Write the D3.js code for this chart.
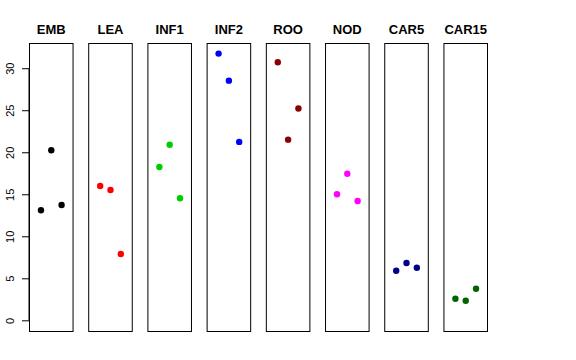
<!DOCTYPE html>
<html>
<head>
<meta charset="utf-8">
<script src="https://cdn.jsdelivr.net/npm/d3@7"></script>
<style>
  body { margin: 0; background: #fff; }
  svg { display: block; }
  .title { font-family: "Liberation Sans", Arial, sans-serif; font-weight: bold; font-size: 13px; }
  .tick text { font-family: "Liberation Sans", Arial, sans-serif; font-size: 11px; }
</style>
</head>
<body>
<div id="chart"></div>
<script>
// tissues, one panel each
var categories = ['EMB', 'LEA', 'INF1', 'INF2', 'ROO', 'NOD', 'CAR5', 'CAR15'];
var colors = ['#000000', '#ff0000', '#00cd00', '#0000ff', '#8b0000', '#ff00ff', '#00008b', '#006400'];
// three replicates per tissue
var rep1 = [13.1, 15.99, 18.25, 31.74, 30.71, 15.0, 5.9, 2.57];
var rep2 = [20.24, 15.51, 20.9, 28.52, 21.5, 17.44, 6.82, 2.33];
var rep3 = [13.73, 7.89, 14.52, 21.23, 25.2, 14.2, 6.26, 3.76];
var yTicks = [0, 5, 10, 15, 20, 25, 30];

var width = 576, height = 360;
var margin = {top: 43, bottom: 29, left: 29, right: 88};

var svg = d3.select('#chart').append('svg')
  .attr('width', width)
  .attr('height', height);

var panel = d3.scaleBand()
  .domain(categories)
  .range([margin.left, width - margin.right])
  .paddingInner(0.2475)
  .paddingOuter(0);

var y = d3.scaleLinear()
  .domain([-1.27, 33.0])
  .range([height - margin.bottom, margin.top]);

var x = d3.scaleLinear()
  .domain([-0.16, 4.16])
  .range([0, panel.bandwidth()]);

// y axis on the first panel only, spine from 0 to 30
var yAxis = svg.append('g')
  .attr('transform', 'translate(' + margin.left + ',0)')
  .call(d3.axisLeft(y).tickValues(yTicks).tickSize(7).tickSizeOuter(0));
yAxis.select('.domain').remove();
yAxis.append('line')
  .attr('x1', 0).attr('x2', 0)
  .attr('y1', y(0)).attr('y2', y(30))
  .attr('stroke', '#000');
yAxis.selectAll('.tick text')
  .attr('transform', 'rotate(-90)')
  .attr('x', 0)
  .attr('y', -19)
  .attr('dy', '0.35em')
  .style('text-anchor', 'middle')
  .attr('fill', '#000');

var groups = svg.selectAll('.panel')
  .data(categories)
  .enter().append('g')
  .attr('class', 'panel')
  .attr('transform', function(d) { return 'translate(' + panel(d) + ',0)'; });

groups.append('rect')
  .attr('x', 0.5)
  .attr('y', y.range()[1] + 0.5)
  .attr('width', panel.bandwidth() - 1)
  .attr('height', y.range()[0] - y.range()[1])
  .attr('fill', 'none')
  .attr('stroke', '#000')
  .attr('stroke-width', 1);

groups.append('text')
  .attr('class', 'title')
  .attr('x', panel.bandwidth() / 2)
  .attr('y', 34)
  .attr('text-anchor', 'middle')
  .text(function(d) { return d; });

groups.each(function(d, i) {
  var vals = [rep1[i], rep2[i], rep3[i]];
  d3.select(this).selectAll('circle')
    .data(vals)
    .enter().append('circle')
    .attr('cx', function(v, j) { return x(j + 1); })
    .attr('cy', function(v) { return y(v); })
    .attr('r', 3.2)
    .attr('fill', colors[i]);
});
</script>
</body>
</html>
